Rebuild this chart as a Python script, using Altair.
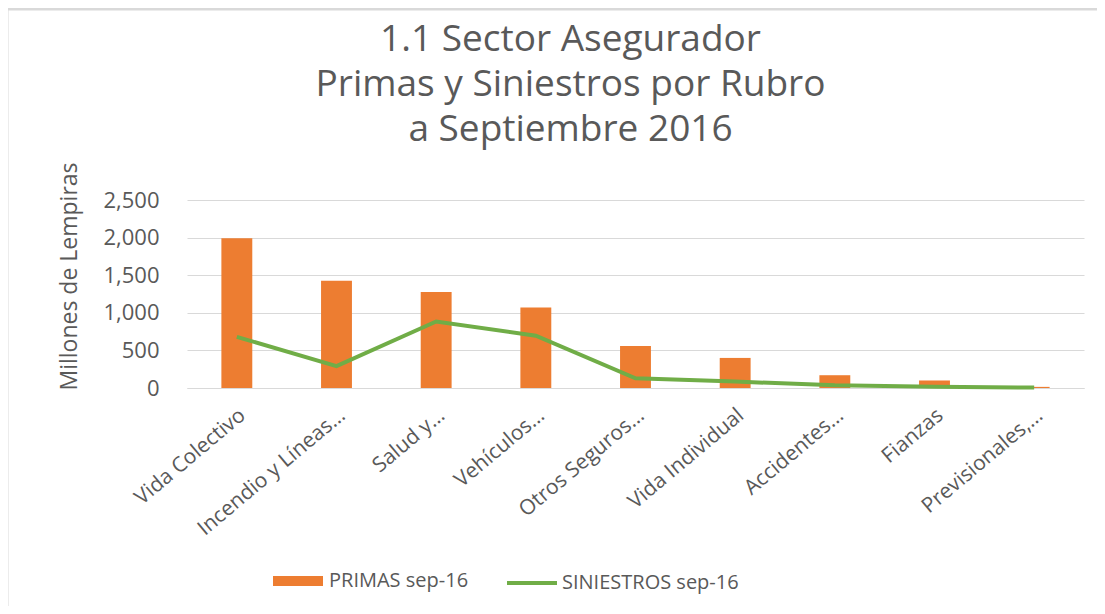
import altair as alt
import pandas as pd

categorias = ["Vida Colectivo", "Incendio y Líneas…", "Salud y…", "Vehículos…",
              "Otros Seguros…", "Vida Individual", "Accidentes…", "Fianzas", "Previsionales,…"]
primas = [1990, 1425, 1275, 1070, 560, 400, 170, 100, 15]
siniestros = [680, 290, 885, 695, 130, 85, 35, 15, 5]
y_ticks = [0, 500, 1000, 1500, 2000, 2500]

serie_primas = "PRIMAS sep-16"
serie_siniestros = "SINIESTROS sep-16"

df = pd.DataFrame({
    "rubro": categorias,
    "primas": primas,
    "siniestros": siniestros,
    "s1": [serie_primas] * len(categorias),
    "s2": [serie_siniestros] * len(categorias),
})

FONT = "Open Sans"
TXT = "#595959"
ORANGE = "#ED7D31"
GREEN = "#70AD47"
BORDER = "#D9D9D9"

x_enc = alt.X(
    "rubro:N", sort=categorias, title=None,
    scale=alt.Scale(paddingInner=0.69, paddingOuter=0.345),
    axis=alt.Axis(labelAngle=-40, labelAlign="right", labelBaseline="top",
                  labelPadding=16, labelOffset=-1, labelFontSize=21, labelColor=TXT,
                  labelFont=FONT, ticks=False, domain=True, domainColor="#D9D9D9",
                  labelLimit=400, labelOverlap=False),
)

y_axis = alt.Axis(values=y_ticks, tickCount=6, format=",.0f", ticks=False, domain=False,
                  labelOverlap=False,
                  labelFontSize=22, labelColor=TXT, labelFont=FONT, labelPadding=28,
                  titleFontSize=23, titleColor=TXT, titleFont=FONT,
                  titleFontWeight="normal", titlePadding=21, titleY=76,
                  gridColor="#D9D9D9", gridWidth=1)
y_scale = alt.Scale(domain=[0, 2500], nice=False)

bars = alt.Chart(df).mark_bar(color=ORANGE).encode(
    x=x_enc,
    y=alt.Y("primas:Q", title="Millones de Lempiras", scale=y_scale, axis=y_axis),
    fill=alt.Fill("s1:N", title=None,
                  scale=alt.Scale(domain=[serie_primas], range=[ORANGE]),
                  legend=alt.Legend(orient="none", legendX=86, legendY=356,
                                    symbolType="M-1,-0.2H1V0.2H-1Z", symbolSize=2500,
                                    symbolStrokeWidth=0, symbolOpacity=1,
                                    labelFontSize=20, labelColor=TXT, labelFont=FONT,
                                    labelOffset=6, labelLimit=400)),
)

line = alt.Chart(df).mark_line(strokeWidth=4).encode(
    x=alt.X("rubro:N", sort=categorias),
    y=alt.Y("siniestros:Q", title="Millones de Lempiras", scale=y_scale, axis=y_axis),
    stroke=alt.Stroke("s2:N", title=None,
                      scale=alt.Scale(domain=[serie_siniestros], range=[GREEN]),
                      legend=alt.Legend(orient="none", legendX=318, legendY=356,
                                        symbolType="stroke", symbolSize=2500,
                                        symbolStrokeWidth=4,
                                        labelFontSize=20, labelColor=TXT, labelFont=FONT,
                                        labelOffset=3, labelLimit=400)),
)

# decorative chart-area frame (top and left edges, as in the reference)
frame_df = pd.DataFrame({"k": [0]})
frame_left = alt.Chart(frame_df).mark_rule(color=BORDER, strokeWidth=3, clip=False).encode(
    x=alt.value(-180), y=alt.value(-191), y2=alt.value(410))
frame_top = alt.Chart(frame_df).mark_rule(color=BORDER, strokeWidth=3, clip=False).encode(
    x=alt.value(-181), x2=alt.value(920), y=alt.value(-191))

chart = alt.layer(bars, line, frame_left, frame_top).resolve_scale(
    fill="independent", stroke="independent").properties(
    width=897,
    height=188,
    background="white",
    autosize=alt.AutoSizeParams(type="none"),
    padding={"left": 179, "top": 192, "right": 13, "bottom": 218},
    title=alt.TitleParams(
        text=["1.1 Sector Asegurador", "Primas y Siniestros por Rubro", "a Septiembre 2016"],
        fontSize=37, font=FONT, fontWeight="normal", color=TXT, lineHeight=45,
        anchor="middle", frame="group", dx=-65, offset=-141,
    ),
).configure_view(stroke=None)

chart.save("out.html", embed_options={"renderer": "svg", "actions": False})
